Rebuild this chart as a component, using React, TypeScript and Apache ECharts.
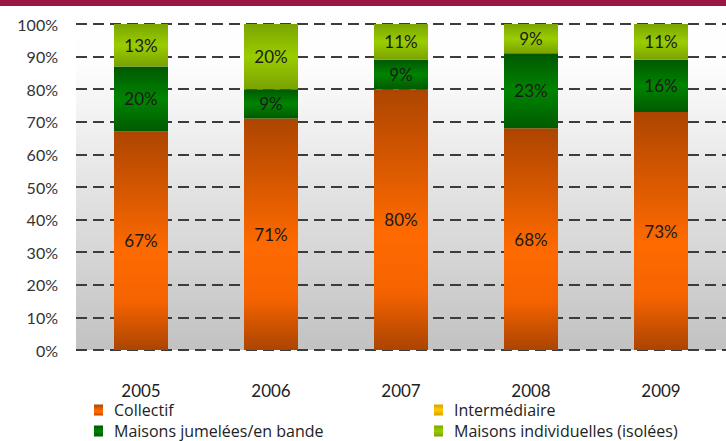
import React, { useEffect, useRef } from "react";
import * as echarts from "echarts";

const years = ["2005", "2006", "2007", "2008", "2009"];
const collectif = [67, 71, 80, 68, 73];
const intermediaire = [0, 0, 0, 0, 0];
const jumelees = [20, 9, 9, 23, 16];
const individuelles = [13, 20, 11, 9, 11];
const yTicks = [0, 10, 20, 30, 40, 50, 60, 70, 80, 90, 100];

const FONT = "Lato";
const LEGEND_FONT = "Open Sans";

function vgrad(stops: [number, string][]) {
  return new echarts.graphic.LinearGradient(
    0, 0, 0, 1,
    stops.map(([offset, color]) => ({ offset, color }))
  );
}

export default function App() {
  const ref = useRef<HTMLDivElement>(null);
  useEffect(() => {
    if (!ref.current) return;
    const chart = echarts.init(ref.current, undefined, { renderer: "svg" });

    const orange = vgrad([
      [0, "#ad4500"],
      [0.55, "#ff6a00"],
      [0.78, "#f56300"],
      [1, "#ab4400"],
    ]);
    const yellow = vgrad([
      [0, "#d9a000"],
      [0.5, "#ffcc00"],
      [1, "#d9a000"],
    ]);
    const dgreen = vgrad([
      [0, "#005800"],
      [0.5, "#008400"],
      [1, "#005a00"],
    ]);
    const lgreen = vgrad([
      [0, "#7aa500"],
      [0.5, "#9acd00"],
      [1, "#7aa200"],
    ]);

    const label = {
      show: true,
      position: "inside" as const,
      formatter: "{c}%",
      color: "#1a1a1a",
      fontFamily: FONT,
      fontSize: 17,
    };

    const barCommon = {
      type: "bar" as const,
      stack: "total",
      barWidth: 54,
      label,
    };

    const legendCommon = {
      orient: "horizontal" as const,
      padding: 0,
      itemWidth: 9,
      itemHeight: 11,
      icon: "rect",
      textStyle: {
        fontFamily: LEGEND_FONT,
        fontSize: 16,
        lineHeight: 16,
        color: "#222",
        padding: [0, 0, 0, 6],
      },
    };

    chart.setOption({
      animation: false,
      backgroundColor: "#ffffff",
      graphic: [
        {
          type: "rect",
          left: 0,
          top: 0,
          shape: { width: 726, height: 6 },
          style: { fill: "#9e1646" },
          z: 100,
        },
      ],
      grid: {
        left: 76,
        right: -15,
        top: 24,
        bottom: 91,
        show: true,
        borderWidth: 0,
        backgroundColor: vgrad([
          [0, "#ffffff"],
          [0.12, "#fdfdfd"],
          [1, "#c2c2c2"],
        ]),
      },
      legend: [
        { ...legendCommon, left: 94, top: 402, data: ["Collectif"] },
        { ...legendCommon, left: 434, top: 402, data: ["Intermédiaire"] },
        { ...legendCommon, left: 94, top: 423, data: ["Maisons jumelées/en bande"] },
        { ...legendCommon, left: 434, top: 423, data: ["Maisons individuelles (isolées)"] },
      ],
      xAxis: {
        type: "category",
        data: years,
        axisLine: { show: false },
        axisTick: { show: false },
        axisLabel: { fontFamily: FONT, fontSize: 17, color: "#222", margin: 32 },
      },
      yAxis: {
        type: "value",
        min: yTicks[0],
        max: yTicks[yTicks.length - 1],
        interval: 10,
        axisLine: { show: false },
        axisTick: { show: false },
        axisLabel: {
          formatter: "{value}%",
          fontFamily: FONT,
          fontSize: 16,
          color: "#333",
          margin: 18,
        },
        splitLine: {
          show: true,
          lineStyle: { color: "#3c3c3c", width: 2, type: [11, 6] },
        },
      },
      series: [
        {
          ...barCommon,
          name: "Collectif",
          data: collectif,
          itemStyle: { color: orange },
        },
        {
          ...barCommon,
          name: "Intermédiaire",
          data: intermediaire,
          itemStyle: { color: yellow },
          label: { ...label, show: false },
        },
        {
          ...barCommon,
          name: "Maisons jumelées/en bande",
          data: jumelees,
          itemStyle: { color: dgreen },
        },
        {
          ...barCommon,
          name: "Maisons individuelles (isolées)",
          data: individuelles,
          itemStyle: { color: lgreen },
        },
      ],
    });
    return () => chart.dispose();
  }, []);

  return (
    <div
      ref={ref}
      style={{ position: "fixed", left: 0, top: 0, width: 726, height: 441 }}
    />
  );
}
